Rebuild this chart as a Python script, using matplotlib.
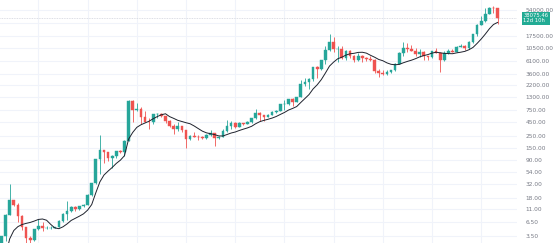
import matplotlib
matplotlib.use("Agg")
import matplotlib.pyplot as plt
import matplotlib.transforms as mtransforms
import numpy as np

# ---- data: BTC monthly candles, Apr 2011 .. May 2021 ----
pre_closes = [0.07, 0.06, 0.06, 0.19, 0.21, 0.30, 0.52, 0.86, 0.78]  # Jul 2010 .. Mar 2011 (for SMA only)

opens = [0.78, 3.5, 8.7, 16.1, 13.4, 8.2, 5.1, 3.2, 3.0,
         4.7, 5.5, 4.9, 4.9, 5.0, 5.2, 6.7, 9.1, 10.1, 12.4, 11.2, 12.6,
         13.5, 20.4, 33.4, 93.0, 139, 129, 97, 106, 135, 128, 204, 1130,
         754, 800, 560, 450, 447, 627, 640, 586, 477, 387, 338, 378,
         320, 217, 254, 244, 236, 230, 263, 284, 230, 236, 314, 378,
         430, 369, 437, 416, 448, 531, 673, 624, 575, 609, 700, 742,
         964, 965, 1190, 1080, 1350, 2300, 2480, 2875, 4700, 4340, 6450, 9950,
         13860, 10220, 10320, 6920, 9240, 7490, 6390, 7730, 7020, 6630, 6370, 4040,
         3740, 3460, 3830, 4100, 5330, 8560, 10820, 10080, 9600, 8300, 9150, 7560,
         7190, 9350, 8540, 6420, 8630, 9450, 9140, 11350, 11650, 10780, 13800, 19700,
         28990, 33110, 45240, 58800, 57800]
highs = [3.5, 8.9, 31.9, 16.5, 14.5, 8.5, 5.2, 3.5, 4.8,
         7.4, 6.4, 5.4, 5.4, 5.2, 6.9, 9.6, 15.4, 12.9, 12.7, 12.9, 13.9,
         21.0, 34.0, 95.0, 266, 140, 129, 110, 130, 140, 215, 1163, 1165,
         1020, 850, 720, 545, 630, 680, 655, 600, 490, 420, 460, 385,
         320, 265, 300, 262, 248, 268, 318, 286, 246, 334, 495, 469,
         463, 448, 439, 467, 549, 780, 705, 625, 628, 721, 755, 975,
         1150, 1210, 1290, 1350, 2760, 3000, 2930, 4750, 4980, 6470, 11500, 19700,
         17200, 11780, 11700, 9750, 9990, 7760, 8500, 7760, 7410, 7680, 6580, 4300,
         4100, 4200, 4100, 5600, 9070, 13880, 13150, 12330, 10900, 10400, 9500, 7750,
         9580, 10500, 9190, 9460, 10070, 10380, 11450, 12480, 12080, 14100, 19500, 29300,
         41950, 58350, 61800, 64900, 59600]
lows = [0.56, 2.8, 8.7, 12.5, 6.5, 4.5, 2.0, 2.0, 2.8,
        4.6, 4.3, 4.7, 4.7, 4.9, 5.2, 6.5, 7.1, 10.0, 10.4, 10.5, 12.3,
        13.2, 19.1, 33.0, 50, 80, 88, 65, 100, 120, 105, 200, 450,
        740, 410, 450, 340, 420, 550, 565, 440, 370, 275, 315, 300,
        152, 212, 236, 214, 225, 218, 253, 162, 225, 236, 300, 342,
        350, 365, 393, 413, 432, 528, 470, 470, 570, 603, 682, 740,
        750, 930, 890, 1060, 1330, 2080, 1830, 2670, 2970, 4130, 5500, 9400,
        9000, 5870, 6600, 6420, 7040, 5760, 6070, 5880, 6100, 6200, 3650, 3120,
        3400, 3390, 3700, 4080, 5320, 7450, 9100, 9400, 7750, 7300, 6540, 6430,
        6870, 8450, 3850, 6150, 8120, 8900, 8980, 10990, 9880, 10370, 13200, 17650,
        28130, 32300, 45000, 47000, 30000]
closes = [3.5, 8.7, 16.1, 13.4, 8.2, 5.1, 3.2, 3.0, 4.7,
          5.5, 4.9, 4.9, 5.0, 5.2, 6.7, 9.1, 10.1, 12.4, 11.2, 12.6, 13.5,
          20.4, 33.4, 93.0, 139, 129, 97, 106, 135, 128, 204, 1130, 754,
          800, 560, 450, 447, 627, 640, 586, 477, 387, 338, 378, 320,
          217, 254, 244, 236, 230, 263, 284, 230, 236, 314, 378, 430,
          369, 437, 416, 448, 531, 673, 624, 575, 609, 700, 742, 964,
          965, 1190, 1080, 1350, 2300, 2480, 2875, 4700, 4340, 6450, 9950, 13860,
          10220, 10320, 6920, 9240, 7490, 6390, 7730, 7020, 6630, 6370, 4040, 3740,
          3460, 3830, 4100, 5330, 8560, 10820, 10080, 9600, 8300, 9150, 7560, 7190,
          9350, 8540, 6420, 8630, 9450, 9140, 11350, 11650, 10780, 13800, 19700, 28990,
          33110, 45240, 58800, 57800, 38075.46]
sma_period = 10
last_price_label = "38075.46"
countdown_label = "12d 10h"
ytick_values = [3.5, 6.5, 11, 18, 32, 54, 90, 150, 250, 450, 750, 1300,
                2200, 3600, 6100, 10500, 17500, 54000]
hidden_grid_value = 31000
year_start_index = [9, 21, 33, 45, 57, 69, 81, 93, 105, 117]  # January candles

# ---- derived ----
o = np.array(opens, float); h = np.array(highs, float)
l = np.array(lows, float); c = np.array(closes, float)
n = len(c)
x = np.arange(n)
allc = np.concatenate([pre_closes, c])
sma = np.convolve(allc, np.ones(sma_period) / sma_period, mode="valid")
sma_x = np.arange(len(allc))[sma_period - 1:] - len(pre_closes)

GREEN = "#26a69a"
RED = "#ef5350"
up = c >= o
cols = np.where(up, GREEN, RED)

W, H = 554, 243
fig = plt.figure(figsize=(W / 100, H / 100), dpi=100)
fig.patch.set_facecolor("white")
AXW = 517
ax = fig.add_axes([0, 0, AXW / W, 1])
ax.set_facecolor("white")

px_per_bar = 4.1
x0 = 1.5
ax.set_xlim((0 - x0) / px_per_bar, (AXW - x0) / px_per_bar)
ax.set_yscale("log")
top_log = 4.7324 + 10 / 54
bot_log = 4.7324 - 233 / 54
ax.set_ylim(10 ** bot_log, 10 ** top_log)

# grid
grid_col = "#f0f3fa"
for v in ytick_values + [hidden_grid_value]:
    ax.axhline(v, color=grid_col, lw=0.8, zorder=0)
for xi in year_start_index:
    ax.axvline(xi, color=grid_col, lw=0.8, zorder=0)

# price line
ax.axhline(c[-1], color="#d1d4dc", lw=0.6, ls=(0, (1, 1)), zorder=1)

# candles
ax.vlines(x, l, h, colors=cols, lw=0.6, zorder=2)
bottoms = np.minimum(o, c)
heights = np.abs(c - o)
ax.bar(x, heights, bottom=bottoms, width=0.68, color=cols, edgecolor=cols,
       linewidth=0.3, zorder=3)

# SMA
ax.plot(sma_x, sma, color="#1e222d", lw=0.7, zorder=4)

# axes styling
for s in ax.spines.values():
    s.set_visible(False)
ax.set_xticks([])
ax.yaxis.tick_right()
ax.set_yticks(ytick_values)
ax.set_yticklabels([f"{v:.2f}" for v in ytick_values])
ax.yaxis.set_minor_locator(matplotlib.ticker.NullLocator())
ax.tick_params(axis="y", which="both", length=0, pad=6, labelsize=4.2,
               labelcolor="#787b86")

# last price label
trans = mtransforms.blended_transform_factory(ax.transAxes, ax.transData)
ax.text(1.012, c[-1], f"{last_price_label}\n{countdown_label}", transform=trans,
        ha="left", va="center", fontsize=3.8, color="white", linespacing=1.1,
        bbox=dict(boxstyle="square,pad=0.25", fc="#22ab94", ec="none"),
        clip_on=False, zorder=10)

fig.savefig("out.png", dpi=100, facecolor="white")
